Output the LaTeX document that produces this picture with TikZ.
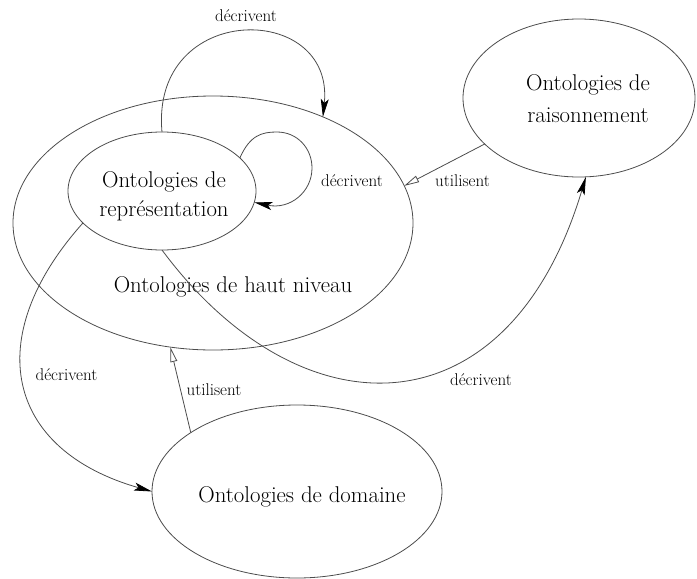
\documentclass[tikz,border=0pt]{standalone}
\usetikzlibrary{shapes.geometric,arrows.meta}
\begin{document}
\begin{tikzpicture}[x=1pt,y=-1pt,
  ell/.style={ellipse,draw=black!70,line width=0.8pt,inner sep=0pt,outer sep=0pt},
  maintxt/.style={font=\rmfamily\fontsize{22.8}{28}\selectfont,anchor=base,inner sep=0pt},
  lab/.style={font=\rmfamily\fontsize{17}{20}\selectfont,anchor=base,inner sep=0pt},
  conn/.style={draw=black!70,line width=0.8pt},
  fl/.style={conn,-{Stealth[length=18pt,width=8pt,inset=4pt,color=black]}},
  op/.style={conn,-{Triangle[open,length=15pt,width=7pt]}}]
\useasboundingbox (0,0) rectangle (697,579);
% ellipses
\node[ell,minimum width=400pt,minimum height=254pt] (haut) at (213,223) {};
\node[ell,minimum width=188pt,minimum height=118pt] (rep) at (162,191) {};
\node[ell,minimum width=232pt,minimum height=158pt] (rais) at (579,98) {};
\node[ell,minimum width=290pt,minimum height=173pt] (dom) at (297,491.5) {};
% texts
\node[maintxt] (t1a) at (164,187) {Ontologies de};
\node[maintxt] (t1b) at (164,216) {représentation};
\node[maintxt] (t2a) at (588,90) {Ontologies de};
\node[maintxt] (t2b) at (588,122) {raisonnement};
\node[maintxt] (t3) at (233,292) {Ontologies de haut niveau};
\node[maintxt] (t4) at (302,502) {Ontologies de domaine};
% connectors
\draw[fl] (rep.north) .. controls (150,1) and (335,1) .. (haut.44);
\draw[fl] (rep.23) .. controls (250,135) and (262,132) .. (277,132)
  .. controls (297,132) and (312,148) .. (312,168)
  .. controls (312,192) and (290,210) .. (rep.-7);
\draw[op] (rais.206) -- (haut.11);
\draw[fl] (rep.south) .. controls (300,436) and (508,437) .. (rais.-85);
\draw[fl] (rep.202) .. controls (-20,338) and (6,450) .. (dom.west);
\draw[op] (dom.151) -- (haut.251);
% labels
\node[lab] (l1) at (246,21.7) {décrivent};
\node[lab] (l2) at (352,186.7) {décrivent};
\node[lab] (l3) at (462.5,186.7) {utilisent};
\node[lab] (l4) at (481,385) {décrivent};
\node[lab] (l5) at (66.5,380) {décrivent};
\node[lab] (l6) at (214,395) {utilisent};
\end{tikzpicture}
\end{document}
